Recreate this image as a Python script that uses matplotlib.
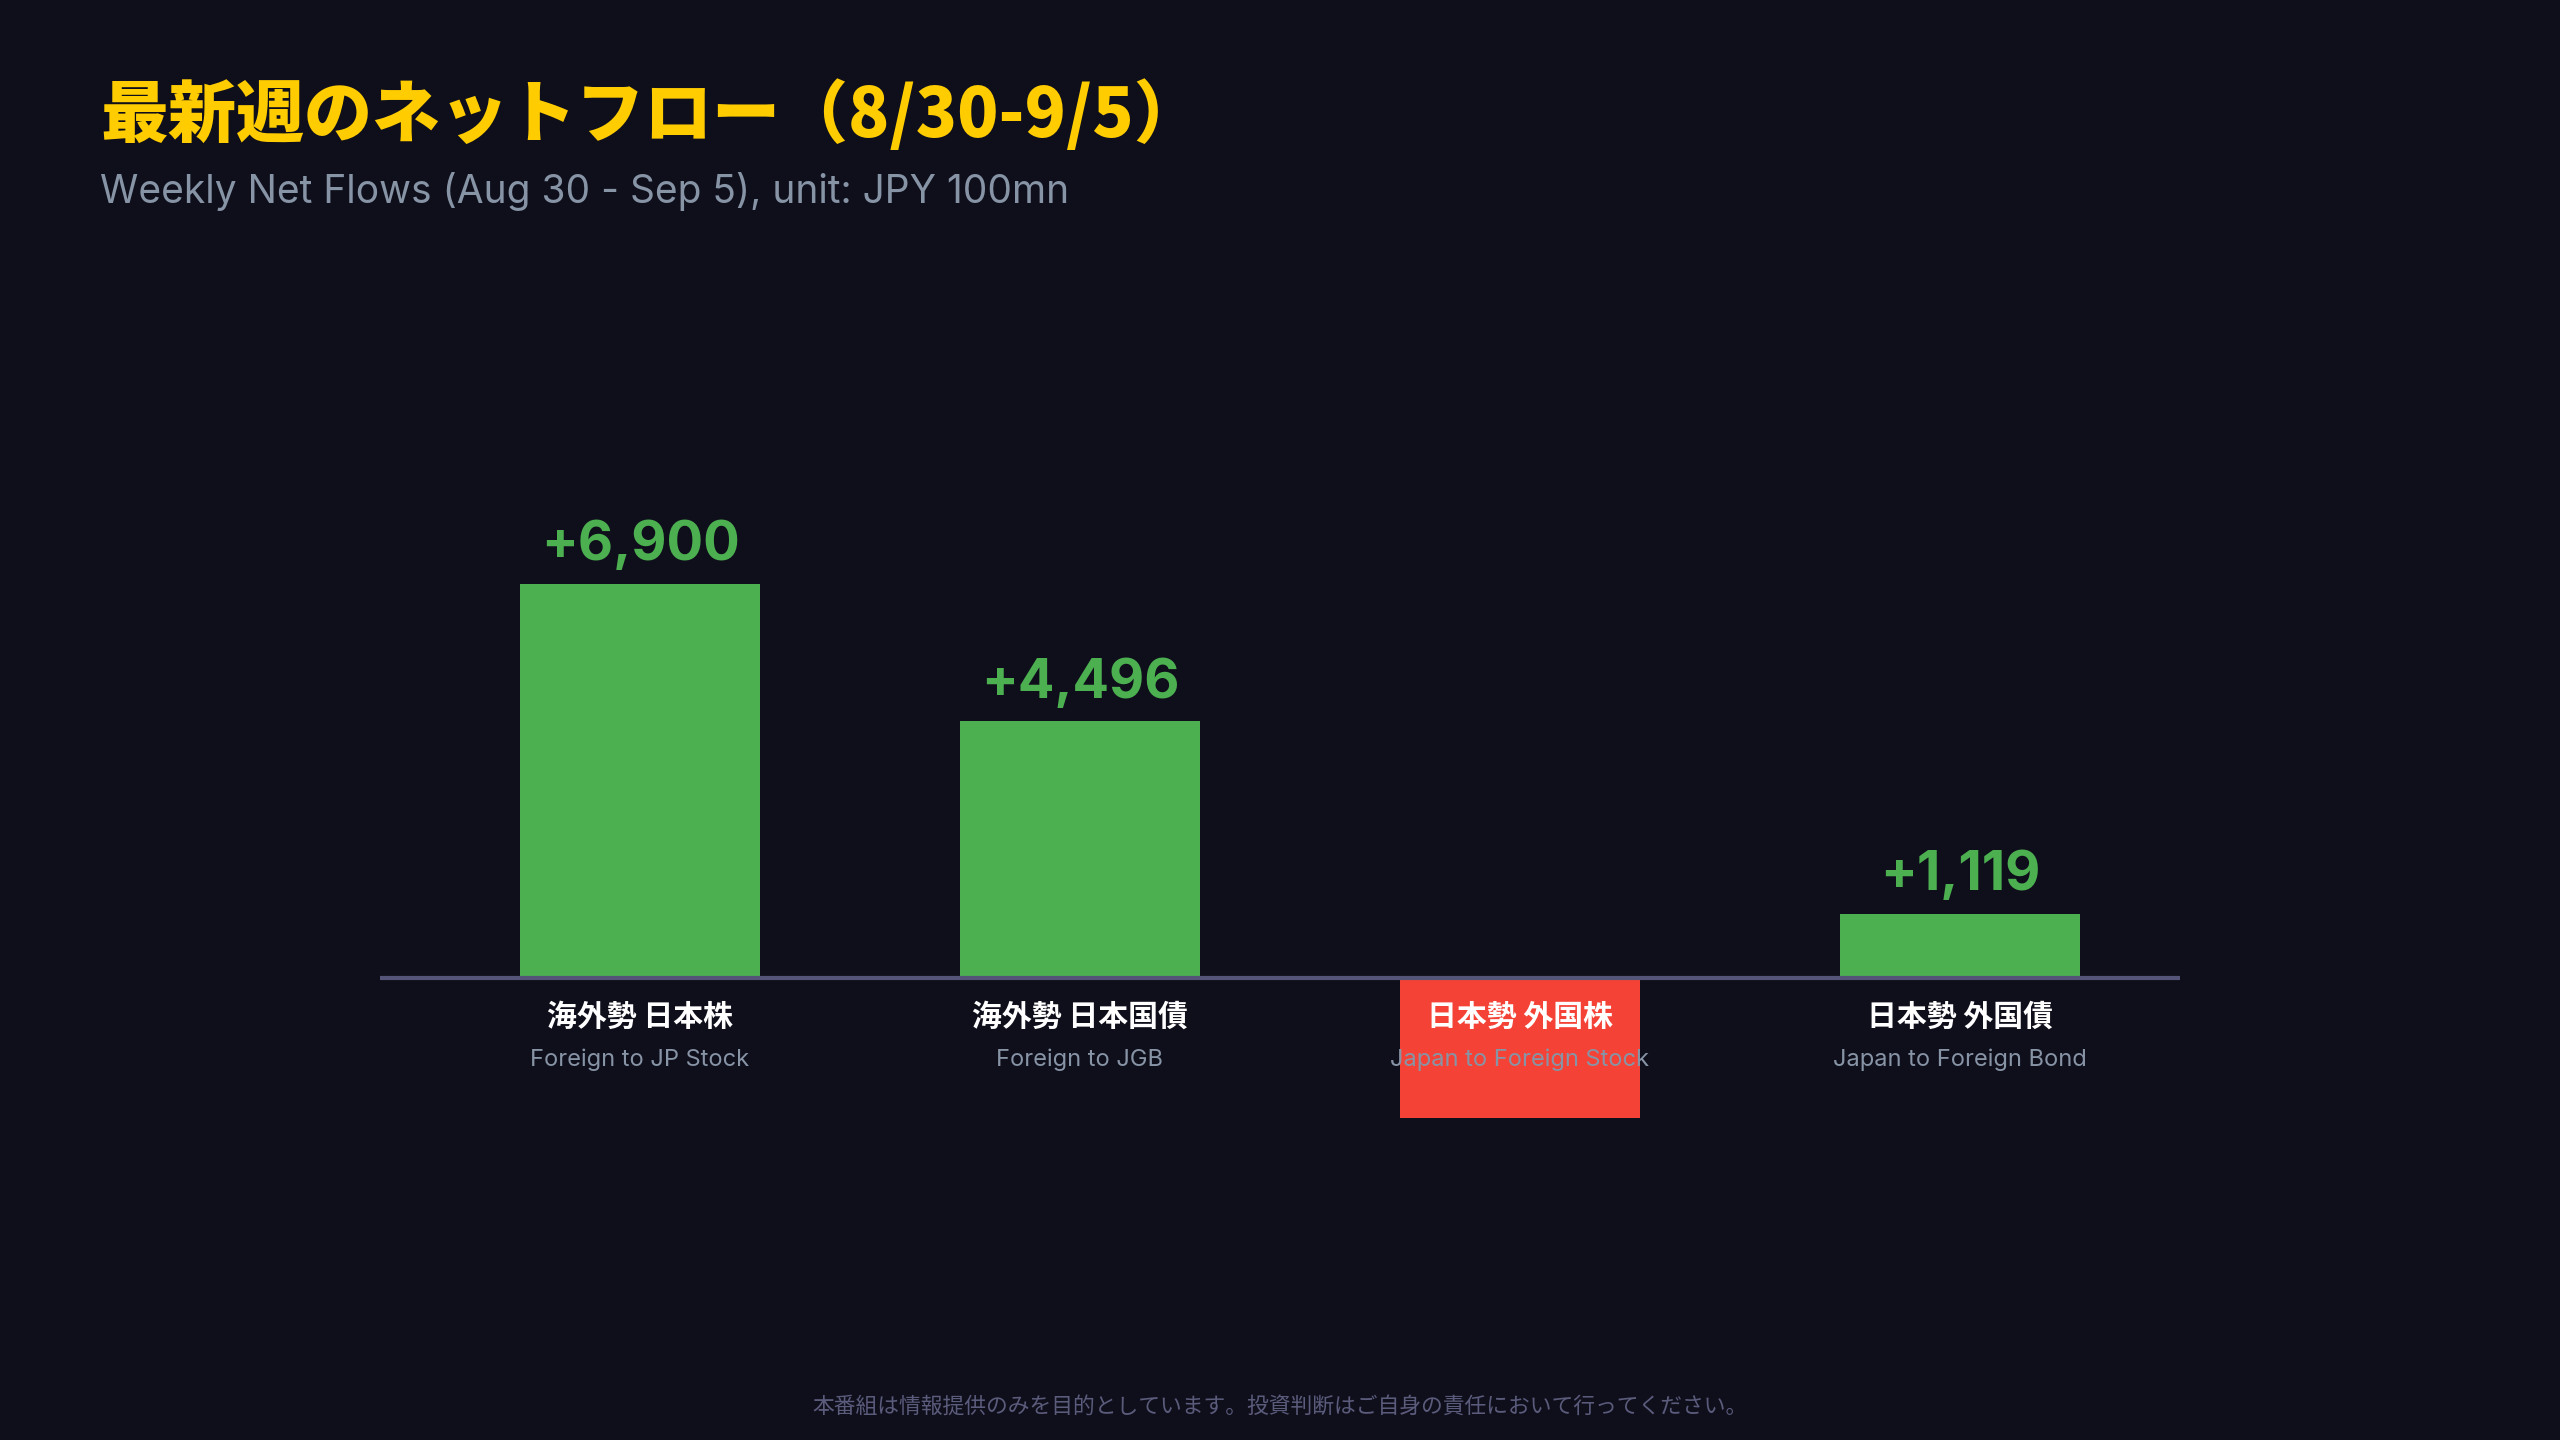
import matplotlib.pyplot as plt

# data (unit: JPY 100mn)
labels_jp = ['海外勢 日本株', '海外勢 日本国債', '日本勢 外国株', '日本勢 外国債']
labels_en = ['Foreign to JP Stock', 'Foreign to JGB', 'Japan to Foreign Stock', 'Japan to Foreign Bond']
values = [6900, 4496, -2450, 1119]
value_labels = ['+6,900', '+4,496', '', '+1,119']

BG = '#0f0f1c'
GREEN = '#4caf50'
RED = '#f44336'

W, H = 2560, 1440
fig = plt.figure(figsize=(25.6, 14.4), dpi=100, facecolor=BG)
ax = fig.add_axes([0, 0, 1, 1])
ax.set_facecolor(BG)
ax.axis('off')

# pixel layout: bar centres 640 + 440*i, baseline at y=978 px, 6900 -> 394 px
k = 6900 / 394
base_px = 978
ax.set_xlim(-640 / 440, (W - 640) / 440)
ax.set_ylim(-(H - base_px) * k, base_px * k)


def py(ypx):
    return (base_px - ypx) * k


x = list(range(len(values)))
colors = [GREEN if v >= 0 else RED for v in values]
ax.bar(x, values, width=240 / 440, color=colors, zorder=2)
ax.hlines(0, (380 - 640) / 440, (2180 - 640) / 440, color='#545478', lw=3, zorder=3)

for i, v in enumerate(values):
    if value_labels[i]:
        ax.annotate(value_labels[i], (i, v), xytext=(0, 17), textcoords='offset points',
                    ha='center', va='baseline', color=GREEN, fontsize=39,
                    fontfamily='Inter', fontweight='bold', zorder=4)
    ax.text(i, py(1017), labels_jp[i], ha='center', va='center', color='white',
            fontsize=21.5, fontfamily=['Noto Sans CJK JP', 'DejaVu Sans'], fontweight='bold', zorder=4)
    ax.text(i, py(1066), labels_en[i], ha='center', va='baseline', color='#8794a6',
            fontsize=17, fontfamily='Inter', zorder=4)

fig.text(100 / W, 1 - 137 / H, '最新週のネットフロー（8/30-9/5）', ha='left', va='baseline',
         color='#ffcc00', fontsize=49, fontfamily=['Noto Sans CJK JP', 'DejaVu Sans'], fontweight='heavy')
fig.text(100 / W, 1 - 203 / H, 'Weekly Net Flows (Aug 30 - Sep 5), unit: JPY 100mn', ha='left',
         va='baseline', color='#8794a6', fontsize=28, fontfamily='Inter')
fig.text(0.5, 1 - 1407 / H, '本番組は情報提供のみを目的としています。投資判断はご自身の責任において行ってください。',
         ha='center', va='center', color='#5b5b7c', fontsize=15.7,
         fontfamily=['Noto Sans CJK JP', 'DejaVu Sans'])

fig.savefig('out.png', dpi=100, facecolor=BG)
